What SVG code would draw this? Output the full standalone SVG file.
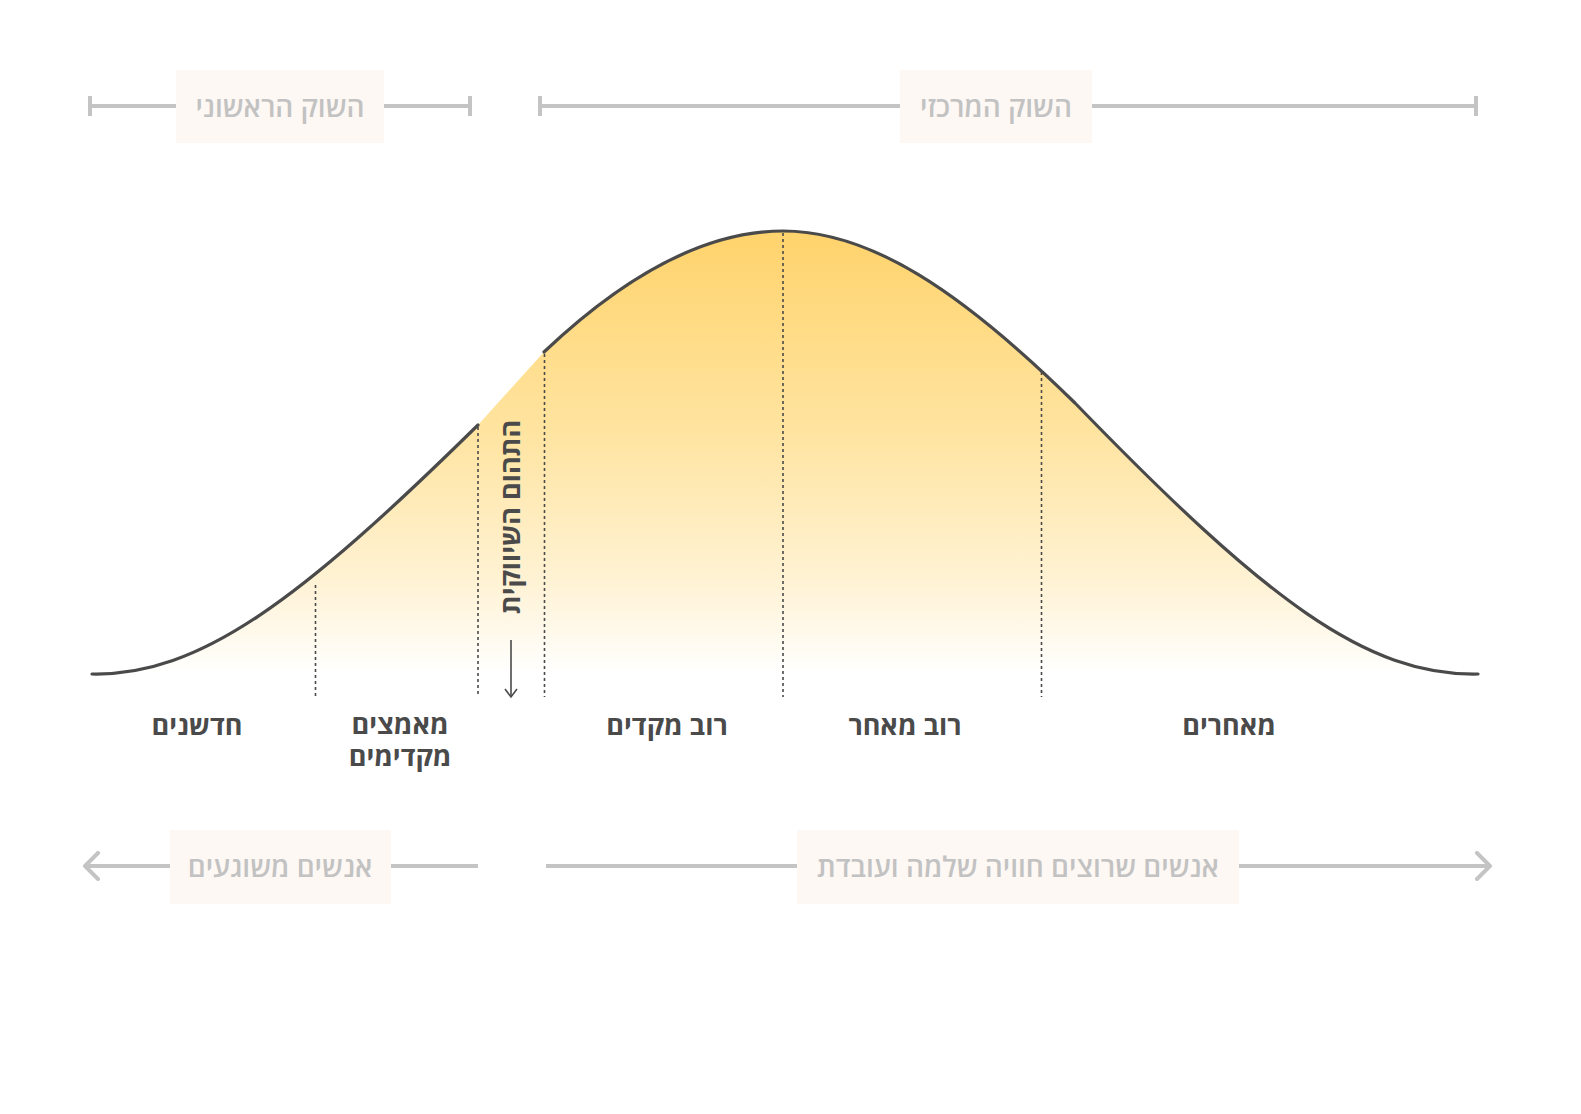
<svg xmlns="http://www.w3.org/2000/svg" width="1581" height="1114" viewBox="0 0 1581 1114">
  <defs>
    <linearGradient id="bellFill" gradientUnits="userSpaceOnUse" x1="0" y1="231" x2="0" y2="674">
      <stop offset="0" stop-color="#FFD36C"/>
      <stop offset="0.45" stop-color="#FFE4A0"/>
      <stop offset="0.8" stop-color="#FFF3D6"/>
      <stop offset="1" stop-color="#FFFFFF"/>
    </linearGradient>
    <marker id="chev" viewBox="0 0 20 30" refX="18" refY="15" markerWidth="20" markerHeight="30" markerUnits="userSpaceOnUse" orient="auto">
      <path d="M4,2 L17,15 L4,28" fill="none" stroke="#c4c4c4" stroke-width="4" stroke-linecap="round" stroke-linejoin="round"/>
    </marker>
    <style>
      .curve { fill: none; stroke: #4a4a4a; stroke-width: 3.2; stroke-linecap: round; }
      .divider { stroke: #4a4a4a; stroke-width: 1.6; stroke-dasharray: 3 3; }
      .bar { stroke: #c4c4c4; stroke-width: 4; fill: none; }
      .tag { fill: #fdf8f4; }
      .tagText { font-family: "Open Sans", "Liberation Sans", "DejaVu Sans", sans-serif; font-size: 28px; font-weight: 600; fill: #c2c2c2; text-anchor: middle; direction: rtl; }
      .segText { font-family: "Open Sans", "Liberation Sans", "DejaVu Sans", sans-serif; font-size: 27px; font-weight: 700; fill: #4a4a4a; text-anchor: middle; direction: rtl; }
    </style>
  </defs>

  <rect width="1581" height="1114" fill="#ffffff"/>

  <!-- area under the adoption curve -->
  <path d="M92,674 C200,676 300,600 478,425 L544,352 C620,280 700,231 783,231 C870,231 960,290 1075,403 C1266,600 1366,676 1478,674 Z" fill="url(#bellFill)"/>

  <!-- segment dividers -->
  <g id="dividers">
    <line class="divider" x1="315.5" y1="585" x2="315.5" y2="697"/>
    <line class="divider" x1="478" y1="427" x2="478" y2="697"/>
    <line class="divider" x1="544.5" y1="354" x2="544.5" y2="697"/>
    <line class="divider" x1="783" y1="233" x2="783" y2="697"/>
    <line class="divider" x1="1041.5" y1="372" x2="1041.5" y2="697"/>
  </g>

  <!-- curve outline, broken at the chasm -->
  <g id="curve">
    <path class="curve" d="M92,674 C200,676 300,600 478,425"/>
    <path class="curve" d="M544,352 C620,280 700,231 783,231 C870,231 960,290 1075,403 C1266,600 1366,676 1478,674"/>
  </g>

  <!-- chasm label -->
  <g id="chasm">
    <text class="segText" transform="translate(520,517) rotate(-90)">התהום השיווקית</text>
    <line x1="511" y1="640" x2="511" y2="697" stroke="#4a4a4a" stroke-width="1.6"/>
    <path d="M505,689 L511,697 L517,689" fill="none" stroke="#4a4a4a" stroke-width="1.6"/>
  </g>

  <!-- segment names -->
  <g id="innovators"><text class="segText" x="197" y="735">חדשנים</text></g>
  <g id="early-adopters">
    <text class="segText" x="400" y="734">מאמצים</text>
    <text class="segText" x="400" y="766">מקדימים</text>
  </g>
  <g id="early-majority"><text class="segText" x="667" y="735">רוב מקדים</text></g>
  <g id="late-majority"><text class="segText" x="905" y="735">רוב מאחר</text></g>
  <g id="laggards"><text class="segText" x="1229" y="735">מאחרים</text></g>

  <!-- market spans and audience arrows -->
  <g id="connectors">
    <line class="bar" x1="90" y1="106" x2="176" y2="106"/>
    <line class="bar" x1="384" y1="106" x2="470" y2="106"/>
    <line class="bar" x1="90" y1="96" x2="90" y2="116"/>
    <line class="bar" x1="470" y1="96" x2="470" y2="116"/>

    <line class="bar" x1="540" y1="106" x2="900" y2="106"/>
    <line class="bar" x1="1092" y1="106" x2="1476" y2="106"/>
    <line class="bar" x1="540" y1="96" x2="540" y2="116"/>
    <line class="bar" x1="1476" y1="96" x2="1476" y2="116"/>

    <line class="bar" x1="170" y1="866" x2="84" y2="866" marker-end="url(#chev)"/>
    <line class="bar" x1="391" y1="866" x2="478" y2="866"/>

    <line class="bar" x1="546" y1="866" x2="797" y2="866"/>
    <line class="bar" x1="1239" y1="866" x2="1491" y2="866" marker-end="url(#chev)"/>
  </g>

  <g id="early-market">
    <rect class="tag" x="176" y="70" width="208" height="73"/>
    <text class="tagText" x="280" y="117">השוק הראשוני</text>
  </g>
  <g id="mainstream-market">
    <rect class="tag" x="900" y="70" width="192" height="73"/>
    <text class="tagText" x="996" y="117">השוק המרכזי</text>
  </g>
  <g id="visionaries">
    <rect class="tag" x="170" y="830" width="221" height="74"/>
    <text class="tagText" x="280" y="877">אנשים משוגעים</text>
  </g>
  <g id="pragmatists">
    <rect class="tag" x="797" y="830" width="442" height="74"/>
    <text class="tagText" x="1018" y="877">אנשים שרוצים חוויה שלמה ועובדת</text>
  </g>
</svg>
